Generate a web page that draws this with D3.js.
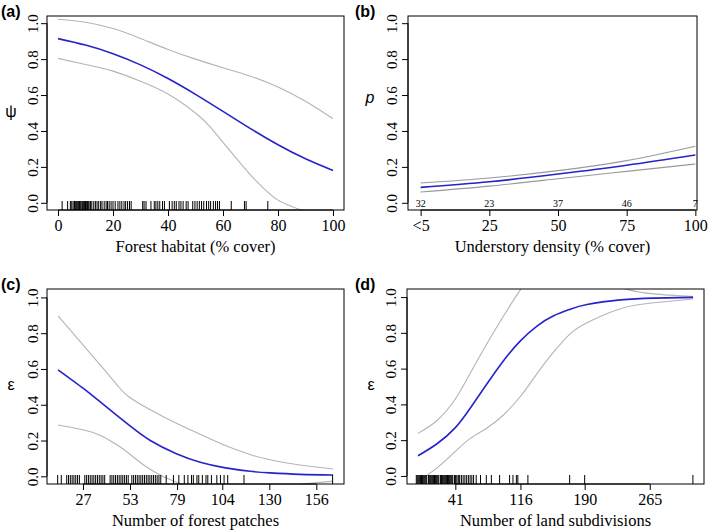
<!DOCTYPE html>
<html><head><meta charset="utf-8">
<script src="https://cdn.jsdelivr.net/npm/d3@7"></script>
<style>body{margin:0;background:#fff}svg{display:block}</style>
</head><body><svg id="c" width="709" height="531"></svg>
<script>
// ---------- Panel (a): occupancy vs forest habitat ----------
const aMeanX = [0,10,20,30,40,50,60,70,80,90,100];
const aMeanY = [0.914,0.878,0.830,0.768,0.692,0.604,0.509,0.413,0.323,0.245,0.18];
const aUpX = [0,10,20,30,40,50,60,70,80,90,100];
const aUpY = [1.022,1.005,0.97,0.915,0.854,0.80,0.752,0.705,0.645,0.565,0.468];
const aLoX = [0,10,20,30,40,50,55,60,65,70,75,80,85,90];
const aLoY = [0.804,0.77,0.733,0.677,0.606,0.50,0.428,0.337,0.245,0.155,0.078,0.015,-0.02,-0.05];
const aRug = [1.5,3.5,4.5,5,5.5,6,6.3,6.8,7,7.4,7.8,8,8.3,8.7,9,9.2,9.6,10,10.3,10.7,11,11.3,11.8,12.3,13,13.6,14.2,14.8,15.5,16,16.8,17.5,18,18.6,19.3,20,20.8,21.8,22.5,23.2,24,24.6,25.3,26,26.6,30.8,31.3,32,33.8,35,35.6,36.3,37,38,38.7,40.5,41.5,42.3,43,44,44.7,45.5,46.6,47.3,49,49.8,50.6,51.4,52.2,53,54,54.8,55.5,56.5,57.3,58,58.7,63,67.8,68.4,76.3];
const aTicks = [0,20,40,60,80,100];

// ---------- Panel (b): detection vs understory density ----------
const bX = [0,25,50,75,100];
const bTickLabels = ["<5","25","50","75","100"];
const bMean = [0.0857,0.117,0.16,0.209,0.266];
const bUp = [0.11,0.138,0.179,0.235,0.315];
const bLo = [0.06,0.093,0.134,0.175,0.216];
const bCounts = ["32","23","37","46","7"];

// ---------- Panel (c): extinction vs number of forest patches ----------
const cMeanX = [13.2,27,36.7,52.3,64.2,78,91.8,105,119.3,130.3,146.8,165.2];
const cMeanY = [0.595,0.4925,0.414,0.287,0.2,0.129,0.078,0.0485,0.028,0.019,0.011,0.0075];
const cUpX = [13.2,27,36.7,45.9,52.3,64.2,78,91.8,105,119.3,130.3,146.8,165.2];
const cUpY = [0.897,0.735,0.62,0.51,0.445,0.372,0.30,0.235,0.175,0.122,0.093,0.063,0.041];
const cLoX = [13.2,27,36.7,45.9,52.3,60.6,67.9,73.4,80.8,91.8,110.1,128.5,146.8,165.2];
const cLoY = [0.287,0.26,0.228,0.175,0.129,0.063,0.017,-0.011,-0.04,-0.065,-0.078,-0.065,-0.045,-0.027];
const cRug = [13,15,18,19,20,21,22,23,24,25,28,29,30,31,32,33,34,35,36,37,38,39,42,43,44,45,46,47,48,49,50,51,52,54,55,56,57,58,59,60,61,62,63,64,65,66,67,68,69,70,73,77,80,83,85,87,88,90,91,93,95,96,98,101,103,105,107,116,165];
const cTicks = [27,53,79,104,130,156];

// ---------- Panel (d): extinction vs number of land subdivisions ----------
const dMeanX = [-2,19.9,41,58.3,77.5,96.7,115.9,135.1,154.3,173.5,192.7,231.2,269.6,314.9];
const dMeanY = [0.113,0.18,0.27,0.38,0.515,0.645,0.755,0.838,0.895,0.932,0.958,0.984,0.994,0.998];
const dUpX = [-2,19.9,41,58.3,77.5,96.7,115.9,135.1,173.5,212,238.8,269.6,314.9];
const dUpY = [0.238,0.31,0.43,0.575,0.74,0.895,1.04,1.12,1.15,1.09,1.043,1.018,1.003];
const dLoX = [-2,19.9,41,58.3,77.5,96.7,115.9,135.1,154.3,173.5,192.7,231.2,269.6,314.9];
const dLoY = [-0.03,0.045,0.137,0.21,0.268,0.342,0.444,0.572,0.693,0.796,0.857,0.935,0.968,0.989];
const dRug = [-4,-3,-2,-1,0,1,2,3,4,5,6,7,8,10,11,12,13,14,15,16,17,18,19,20,21,22,24,25,26,27,28,29,30,31,32,33,34,35,36,37,38,40,41,42,44,45,46,48,50,52,54,56,58,60,62,65,70,76.7,82.5,92,103.5,107.4,111.3,113,124.6,172.7,190,314.7];
const dTicks = [41,116,190,265];

const yTicks = [0,0.2,0.4,0.6,0.8,1.0];

const svg = d3.select("#c");
const BLUE = "#2424c8", GREY = "#b4b4b4";
const SERIF = '"Liberation Serif"';
const SANS = '"Liberation Sans"';

function panel(cfg){
  const {left, top, w, h, xdom, ydom, id} = cfg;
  const g = svg.append("g").attr("transform", `translate(${left},${top})`);
  const x = d3.scaleLinear().domain(xdom).range([0,w]);
  const y = d3.scaleLinear().domain(ydom).range([h,0]);
  g.append("clipPath").attr("id", id).append("rect").attr("width", w).attr("height", h);
  const plot = g.append("g").attr("clip-path", `url(#${id})`);
  const line = d3.line().x(d=>x(d[0])).y(d=>y(d[1])).curve(d3.curveNatural);
  const draw = (xs, ys, col, wd) => plot.append("path")
      .attr("d", line(xs.map((v,i)=>[v, ys[i]])))
      .attr("fill","none").attr("stroke",col).attr("stroke-width",wd);
  cfg.curves.forEach(c => draw(c[0], c[1], c[2], c[3]));
  if (cfg.rug) {
    g.append("g").selectAll("line").data(cfg.rug).join("line")
      .attr("x1", d=>x(d)).attr("x2", d=>x(d)).attr("y1", h).attr("y2", h-9)
      .attr("stroke","#000").attr("stroke-width",1);
  }
  // x axis
  const xa = d3.axisBottom(x).tickValues(cfg.xticks).tickSize(6).tickPadding(4).tickSizeOuter(0);
  if (cfg.xfmt) xa.tickFormat(cfg.xfmt);
  const gx = g.append("g").attr("transform", `translate(0,${h})`).call(xa);
  gx.select(".domain").attr("d", `M${x(cfg.xticks[0])},0H${x(cfg.xticks[cfg.xticks.length-1])}`);
  gx.selectAll("text").style("font-family", SERIF).style("font-size","16px").attr("fill","#000");
  // y axis
  const ya = d3.axisLeft(y).tickValues(yTicks).tickSize(6).tickFormat(d3.format(".1f")).tickSizeOuter(0);
  const gy = g.append("g").call(ya);
  gy.select(".domain").attr("d", `M0,${y(0)}V${y(1)}`);
  gy.selectAll("text").style("font-family", SERIF).style("font-size","15px").attr("fill","#000")
    .attr("text-anchor","middle").attr("dy",0).attr("x",0)
    .attr("transform", `translate(${-cfg.ylabOff},0) rotate(-90)`);
  // frame
  g.append("rect").attr("width", w).attr("height", h).attr("fill","none").attr("stroke","#000").attr("stroke-width",1);
  // titles
  g.append("text").attr("x", w/2).attr("y", h + 42).attr("text-anchor","middle")
    .style("font-family", SERIF).style("font-size","16.5px").text(cfg.xtitle);
  svg.append("text").attr("x", cfg.ytx).attr("y", cfg.yty).attr("text-anchor","middle")
    .style("font-family", SANS).style("font-style", cfg.yitalic ? "italic":"normal")
    .style("font-size","16px").text(cfg.ytitle);
  svg.append("text").attr("x", cfg.lx).attr("y", cfg.ly)
    .style("font-family", SANS).style("font-weight","bold").style("font-size","16px").text(cfg.label);
  return {g, x, y};
}

panel({id:"pa", left:47, top:16, w:297, h:194, xdom:[-4,104], ydom:[-0.04,1.04],
  curves:[[aUpX,aUpY,GREY,1.1],[aLoX,aLoY,GREY,1.1],[aMeanX,aMeanY,BLUE,1.6]],
  rug:aRug, xticks:aTicks, ylabOff:9.5,
  xtitle:"Forest habitat (% cover)",
  ytitle:"ψ", ytx:11, yty:117, label:"(a)", lx:1, ly:17});

const pb = panel({id:"pb", left:408, top:16, w:289, h:194, xdom:[-4.6,100.6], ydom:[-0.04,1.04],
  curves:[[bX,bUp,"#999",1.1],[bX,bLo,"#999",1.1],[bX,bMean,BLUE,1.6]],
  xticks:bX, xfmt:(d,i)=>bTickLabels[i], ylabOff:11.5,
  xtitle:"Understory density (% cover)",
  ytitle:"p", ytx:370, yty:103, yitalic:true, label:"(b)", lx:355, ly:17});
pb.g.append("g").selectAll("text").data(bCounts).join("text")
  .attr("x",(d,i)=>pb.x(bX[i])).attr("y", pb.y(0)+4).attr("text-anchor","middle")
  .style("font-family", SERIF).style("font-size","10px").text(d=>d);

panel({id:"pc", left:47, top:289, w:297, h:195, xdom:[7.1,171.3], ydom:[-0.043,1.047],
  curves:[[cUpX,cUpY,GREY,1.1],[cLoX,cLoY,GREY,1.1],[cMeanX,cMeanY,BLUE,1.6]],
  rug:cRug, xticks:cTicks, ylabOff:9.5,
  xtitle:"Number of forest patches",
  ytitle:"ε", ytx:11, yty:390, label:"(c)", lx:1, ly:290});

panel({id:"pd", left:407, top:289, w:297, h:195, xdom:[-14.7,327.5], ydom:[-0.045,1.045],
  curves:[[dUpX,dUpY,GREY,1.1],[dLoX,dLoY,GREY,1.1],[dMeanX,dMeanY,BLUE,1.6]],
  rug:dRug, xticks:dTicks, ylabOff:11.5,
  xtitle:"Number of land subdivisions",
  ytitle:"ε", ytx:371, yty:390, label:"(d)", lx:355, ly:290});
</script></body></html>
